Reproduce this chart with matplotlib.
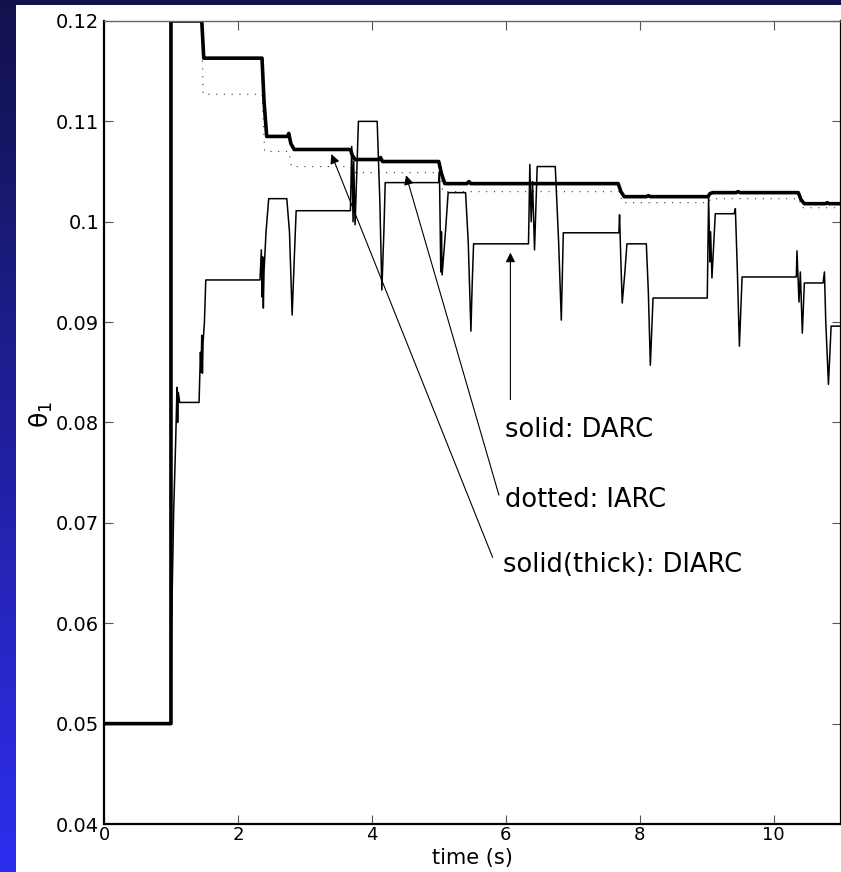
import numpy as np
import matplotlib
matplotlib.use("Agg")
import matplotlib.pyplot as plt
from matplotlib.patches import Rectangle

plt.rcParams['font.family'] = ['DejaVu Sans']

# thin solid: DARC
darc_t = [0, 1.0, 1.01, 1.04, 1.07, 1.09, 1.10, 1.11, 1.13, 1.42, 1.44, 1.45, 1.46, 1.47, 1.48,
          1.50, 1.52, 2.33, 2.35, 2.36, 2.37, 2.38, 2.39, 2.42, 2.46, 2.73, 2.77, 2.81, 2.84, 2.87,
          3.68, 3.70, 3.72, 3.73, 3.75, 3.80, 4.08, 4.12, 4.15, 4.18, 4.20, 5.00, 5.01, 5.03, 5.04,
          5.05, 5.10, 5.14, 5.40, 5.44, 5.48, 5.50, 5.52, 6.34, 6.36, 6.38, 6.40, 6.43, 6.47, 6.74,
          6.79, 6.83, 6.86, 7.69, 7.70, 7.72, 7.74, 7.78, 7.81, 8.10, 8.13, 8.16, 8.20, 9.01, 9.03,
          9.05, 9.06, 9.08, 9.13, 9.41, 9.43, 9.46, 9.49, 9.53, 10.34, 10.35, 10.38, 10.40, 10.43,
          10.46, 10.74, 10.76, 10.78, 10.82, 10.86, 11.0]
darc_v = [0.050, 0.050, 0.060, 0.071, 0.078, 0.0835, 0.080, 0.083, 0.082, 0.082, 0.087, 0.085, 0.0887, 0.0849, 0.088,
          0.090, 0.0942, 0.0942, 0.0972, 0.0925, 0.0965, 0.0914, 0.095, 0.099, 0.1023, 0.1023, 0.099, 0.0907, 0.096, 0.1011,
          0.1011, 0.1075, 0.100, 0.106, 0.0997, 0.110, 0.110, 0.102, 0.0932, 0.099, 0.1039, 0.1039, 0.105, 0.095, 0.099,
          0.0947, 0.099, 0.1029, 0.1029, 0.098, 0.0891, 0.094, 0.0978, 0.0978, 0.1057, 0.100, 0.104, 0.0972, 0.1055, 0.1055,
          0.098, 0.0902, 0.0989, 0.0989, 0.1007, 0.096, 0.0919, 0.095, 0.0978, 0.0978, 0.093, 0.0857, 0.0924, 0.0924, 0.1025,
          0.096, 0.099, 0.0944, 0.1008, 0.1008, 0.1013, 0.095, 0.0876, 0.0945, 0.0945, 0.0971, 0.092, 0.095, 0.0889,
          0.0939, 0.0939, 0.095, 0.090, 0.0838, 0.0896, 0.0896]

# dotted: IARC
iarc_t = [0, 1.0, 1.0, 1.46, 1.48, 2.36, 2.40, 2.76, 2.80, 3.68, 3.72, 5.02, 5.06, 7.70, 7.74,
          9.03, 9.06, 10.38, 10.42, 11.0]
iarc_v = [0.050, 0.050, 0.120, 0.120, 0.1127, 0.1127, 0.1070, 0.1070, 0.1055, 0.1055, 0.1049, 0.1049, 0.1030, 0.1030, 0.1019,
          0.1019, 0.1023, 0.1023, 0.1014, 0.1014]

# thick solid: DIARC
diarc_t = [0, 1.0, 1.0, 1.46, 1.49, 2.36, 2.39, 2.43, 2.74, 2.76, 2.79, 2.84, 3.68, 3.71, 3.75,
           4.10, 4.13, 4.16, 5.00, 5.04, 5.09, 5.42, 5.45, 5.48, 7.68, 7.72, 7.77, 8.10, 8.13, 8.16,
           9.02, 9.05, 9.09, 9.44, 9.47, 9.50, 10.37, 10.41, 10.46, 10.78, 10.80, 10.83, 11.0]
diarc_v = [0.050, 0.050, 0.120, 0.120, 0.1163, 0.1163, 0.1120, 0.1085, 0.1085, 0.1088, 0.1078, 0.1072, 0.1072, 0.1066, 0.1062,
           0.1062, 0.1064, 0.1060, 0.1060, 0.1048, 0.1038, 0.1038, 0.1040, 0.1038, 0.1038, 0.1030, 0.1025, 0.1025, 0.1026, 0.1025,
           0.1025, 0.1028, 0.1029, 0.1029, 0.1030, 0.1029, 0.1029, 0.1022, 0.1018, 0.1018, 0.1019, 0.1018, 0.1018]

labels = ['solid: DARC', 'dotted: IARC', 'solid(thick): DIARC']
label_xy = [(5.99, 0.0793), (5.99, 0.0723), (5.96, 0.0658)]
arrow_tail = [(6.07, 0.0820), (5.91, 0.0725), (5.82, 0.0663)]
arrow_head = [(6.07, 0.0972), (4.50, 0.1049), (3.38, 0.1070)]

xticks = [0, 2, 4, 6, 8, 10]
yticks = [0.04, 0.05, 0.06, 0.07, 0.08, 0.09, 0.1, 0.11, 0.12]
ytick_labels = ['0.04', '0.05', '0.06', '0.07', '0.08', '0.09', '0.1', '0.11', '0.12']

W, H = 841, 872
fig = plt.figure(figsize=(W / 100, H / 100), dpi=100)

# blue slide background with white panel
bg = fig.add_axes([0, 0, 1, 1], zorder=-10)
grad = np.linspace(0, 1, 256)[:, None]
top_c = np.array([18, 18, 75]) / 255
bot_c = np.array([46, 46, 240]) / 255
img = top_c[None, None, :] * (1 - grad[:, :, None]) + bot_c[None, None, :] * grad[:, :, None]
bg.imshow(img, aspect='auto', extent=[0, 1, 0, 1])
bg.add_patch(Rectangle((16 / W, 0), 1, 1 - 5 / H, facecolor='white', edgecolor='none'))
bg.set_xlim(0, 1)
bg.set_ylim(0, 1)
bg.axis('off')

ax = fig.add_axes([104 / W, 1 - 824 / H, (840.5 - 104) / W, (824 - 21) / H])
ax.set_facecolor('white')

ax.plot(iarc_t, iarc_v, color='#333333', lw=0.8, linestyle=(0, (1, 6)))
ax.plot(darc_t, darc_v, color='black', lw=1.1)
ax.plot(diarc_t, diarc_v, color='black', lw=2.6, solid_joinstyle='round')

for txt, (lx, ly), tail, head in zip(labels, label_xy, arrow_tail, arrow_head):
    ax.annotate('', xy=head, xytext=tail,
                arrowprops=dict(arrowstyle='-|>', color='black', lw=0.8, mutation_scale=14))
    ax.text(lx, ly, txt, fontsize=18.5, ha='left', va='center')

ax.set_xlim(0, 11)
ax.set_ylim(0.04, 0.12)
ax.set_xticks(xticks)
ax.set_yticks(yticks)
ax.set_yticklabels(ytick_labels)
ax.tick_params(direction='in', top=True, right=True, length=6.5, width=0.8,
               color='#555555', labelsize=14, labelcolor='black')
ax.tick_params(axis='x', pad=1.5, labelsize=13)
ax.tick_params(axis='y', pad=3.5)

for side in ['left', 'bottom', 'right']:
    ax.spines[side].set_linewidth(1.6)
    ax.spines[side].set_color('black')
ax.spines['top'].set_linewidth(1.0)
ax.spines['top'].set_color('#666666')

ax.set_xlabel('time (s)', fontsize=15, labelpad=2.5)
ax.set_ylabel(r'$\mathregular{\theta_1}$', fontsize=18)
ax.yaxis.set_label_coords(-0.066, 0.51)

fig.savefig('out.png', dpi=100)
